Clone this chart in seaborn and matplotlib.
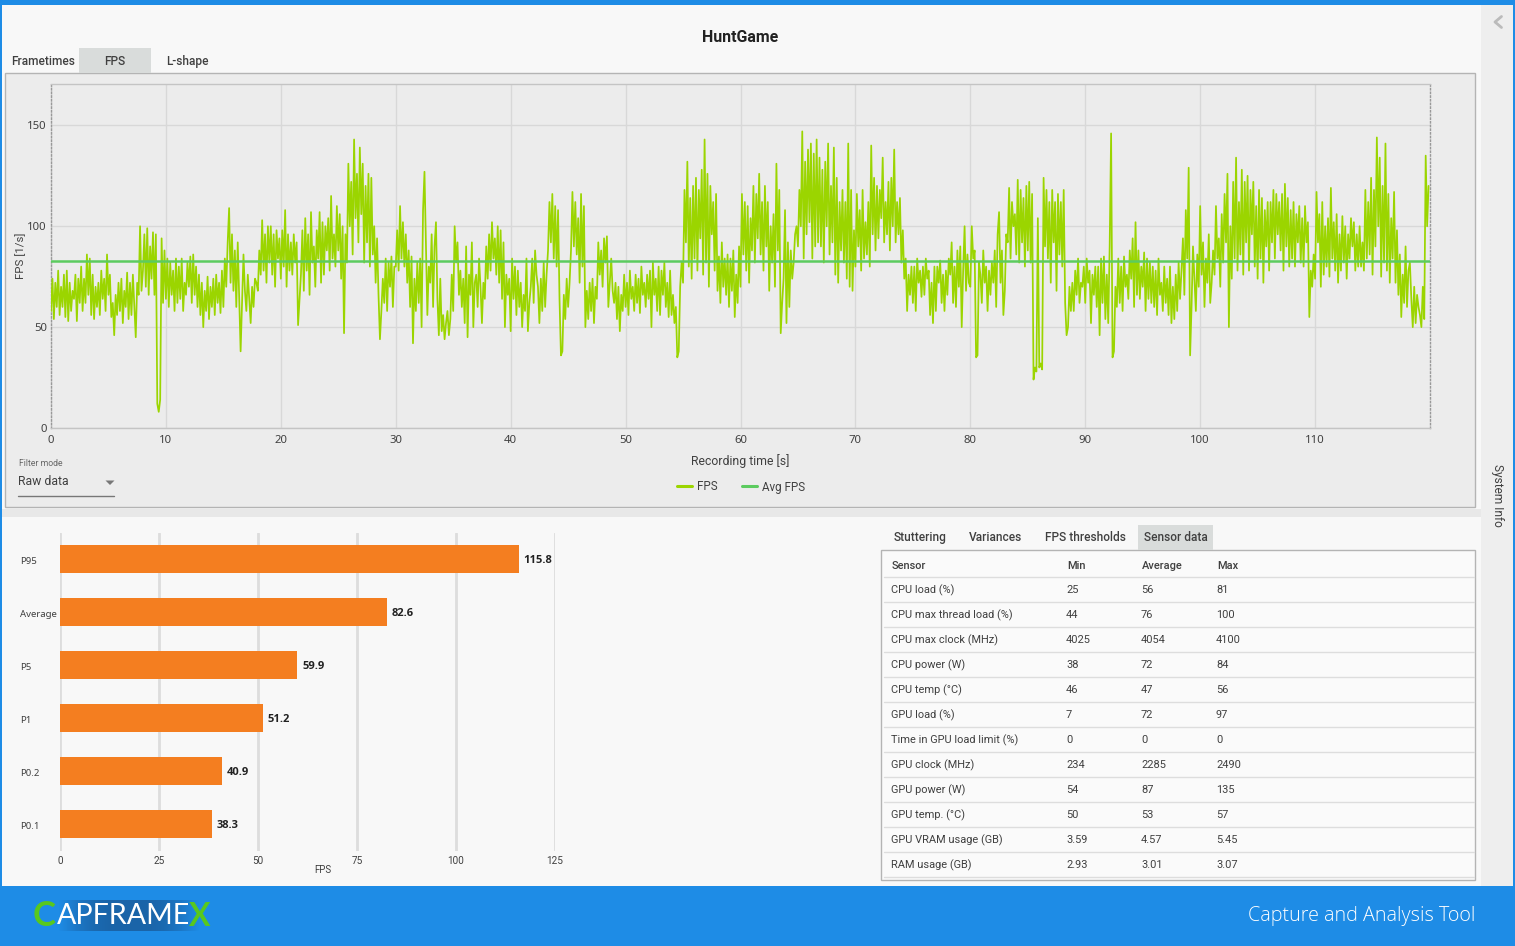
import numpy as np
import pandas as pd
import matplotlib
matplotlib.use("Agg")
import matplotlib.pyplot as plt
from matplotlib.patches import Rectangle, Polygon
from matplotlib.transforms import ScaledTranslation
import seaborn as sns

# ---- data ----------------------------------------------------------------
samples_per_second = 8
fps_values = [
58,74,54,72,60,78,56,70, 60,76,55,78,53,72,58,68, 64,76,53,74,62,80,58,74, 62,86,66,84,56,76,54,70,
60,72,56,78,64,74,58,86, 66,76,55,62,46,66,56,72, 58,74,52,68,60,77,54,72, 56,76,60,45,72,66,100,68,
78,96,70,99,66,90,74,97, 66,96,12,8,14,94,62,88, 64,84,60,82,66,78,58,84, 62,80,64,84,58,72,66,82,
70,85,62,86,66,80,60,76, 56,72,50,68,58,75,54,70, 60,74,56,76,62,72,57,78, 60,84,70,92,109,72,96,68,
88,60,92,66,38,62,86,68, 58,76,64,52,70,60,74,72, 68,88,76,103,78,96,72,100, 82,100,76,96,70,98,84,94,
74,98,80,108,70,96,78,92, 76,96,82,92,51,64,76,98, 68,104,78,96,66,107,82,90, 70,98,84,107,72,102,76,100,
88,104,78,115,84,96,80,110, 88,106,74,100,47,96,82,131, 100,122,86,143,104,126,92,139, 106,131,82,120,92,126,80,124,
86,100,72,94,66,44,58,74, 62,84,58,82,70,85,60,80, 80,98,78,110,84,102,80,96, 72,88,60,85,42,74,58,82,
62,84,50,108,127,92,56,80, 72,96,60,90,102,64,46,74, 48,56,44,52,58,46,54,76, 58,100,82,92,66,78,60,74,
52,90,45,76,66,92,50,72, 76,60,84,70,52,72,64,90, 74,96,78,102,84,94,76,100, 72,98,64,92,50,76,66,74,
48,84,64,80,56,78,60,72, 50,66,58,84,48,62,70,84, 62,88,76,70,52,74,58,82, 60,76,88,112,92,116,84,110,
80,108,64,36,38,66,54,74, 60,72,88,117,90,112,86,104, 72,116,80,110,50,68,54,72, 58,74,52,70,64,92,76,88,
70,94,82,95,60,72,84,68, 62,72,54,70,48,66,58,76, 60,72,56,78,64,70,58,76, 62,74,57,80,66,72,60,76,
64,78,50,82,66,74,58,80, 56,78,66,82,60,72,55,78, 56,66,52,60,35,38,70,82, 72,118,92,132,80,114,74,120,
84,124,78,118,94,128,76,143, 82,126,70,120,96,112,78,116, 68,85,62,92,70,84,66,86, 60,84,68,88,55,76,62,90,
70,116,86,112,78,110,72,104, 88,120,82,116,94,126,86,112, 78,120,90,112,68,100,82,106, 70,131,88,118,47,62,74,108,
52,92,60,88,74,82,96,100, 90,118,100,147,84,132,96,138, 102,141,84,136,90,143,92,134, 90,128,82,132,100,141,86,120,
92,139,76,124,72,112,88,118, 82,112,74,141,70,118,68,98, 80,116,90,108,78,118,84,102, 86,112,80,140,96,124,88,120,
94,118,104,134,92,112,96,122, 88,124,100,138,92,112,96,114, 82,98,74,84,58,76,66,80, 62,80,58,84,72,78,65,80,
66,84,74,78,56,72,52,80, 58,80,72,83,62,76,58,78, 66,84,76,92,62,80,60,88, 70,90,50,78,100,68,86,72,
70,100,84,88,35,36,82,76, 62,88,72,80,58,78,66,82, 72,88,60,96,107,72,88,56, 68,96,92,119,84,112,100,106,
86,123,82,118,92,114,80,120, 88,122,82,116,24,30,28,104, 30,32,29,124,90,118,84,112, 72,118,92,112,68,116,86,112,
80,118,62,46,50,70,58,72, 58,78,66,84,62,72,70,80, 62,84,72,78,52,76,66,80, 60,80,46,84,62,85,54,76,
52,90,146,35,38,70,60,84, 62,80,58,85,70,76,64,88, 74,94,60,102,66,88,64,80, 70,87,58,84,64,82,62,80,
60,78,56,84,66,72,58,80, 62,74,56,80,52,70,54,76, 58,82,64,78,94,66,108,84, 129,36,60,90,74,58,86,70,
110,76,92,60,84,72,96,62, 72,88,76,110,84,94,70,106, 82,116,92,126,50,100,74,122, 84,134,78,112,86,128,76,122,
92,125,78,118,96,122,80,110, 74,118,84,114,72,108,90,112, 78,112,92,118,84,116,96,112, 88,116,78,121,90,114,80,108,
84,112,80,106,92,110,82,104, 80,110,92,102,55,78,70,86, 74,117,92,106,70,112,76,100, 80,104,75,119,84,102,78,106,
72,96,78,105,82,100,74,96, 84,104,90,102,78,96,80,100, 80,92,78,118,84,112,86,124, 76,118,90,144,100,134,75,120,
82,141,78,116,72,104,84,117, 72,98,66,86,55,76,62,90, 60,78,82,64,50,70,52,66, 60,56,50,70,54,135,100,120,
]
avg_fps = 82.6

metric_names = ["P95", "Average", "P5", "P1", "P0.2", "P0.1"]
metric_values = [115.8, 82.6, 59.9, 51.2, 40.9, 38.3]

sensor_names = ["CPU load (%)", "CPU max thread load (%)", "CPU max clock (MHz)", "CPU power (W)",
                "CPU temp (°C)", "GPU load (%)", "Time in GPU load limit (%)", "GPU clock (MHz)",
                "GPU power (W)", "GPU temp. (°C)", "GPU VRAM usage (GB)", "RAM usage (GB)"]
sensor_min = ["25", "44", "4025", "38", "46", "7", "0", "234", "54", "50", "3.59", "2.93"]
sensor_avg = ["56", "76", "4054", "72", "47", "72", "0", "2285", "87", "53", "4.57", "3.01"]
sensor_max = ["81", "100", "4100", "84", "56", "97", "0", "2490", "135", "57", "5.45", "3.07"]

top_tabs = ["Frametimes", "FPS", "L-shape"]
lower_tabs = ["Stuttering", "Variances", "FPS thresholds", "Sensor data"]

# ---- style ---------------------------------------------------------------
W, H = 1515, 946
BLUE = "#1E8CE6"
LIME = "#9BD500"
AVG = "#5CCB5F"
ORANGE = "#F47E20"
TXT = "#404040"
sns.set_style("white")
plt.rcParams["font.family"] = ["Roboto", "DejaVu Sans"]

fig = plt.figure(figsize=(W / 100, H / 100), dpi=100, facecolor="#F8F8F8")


def axes_px(left, top, right, bottom, **kw):
    return fig.add_axes([left / W, 1 - bottom / H, (right - left) / W, (bottom - top) / H], **kw)


# ---- window chrome (pixel coordinates) -----------------------------------
bg = fig.add_axes([0, 0, 1, 1], zorder=0)
bg.set_xlim(0, W)
bg.set_ylim(H, 0)
bg.axis("off")


def rect(x0, y0, x1, y1, fc, ec="none", lw=0, z=1):
    bg.add_patch(Rectangle((x0, y0), x1 - x0, y1 - y0, facecolor=fc, edgecolor=ec, linewidth=lw, zorder=z))


rect(0, 0, W, 5, BLUE)
rect(0, 0, 2, H, BLUE)
rect(1513, 0, W, H, BLUE)
rect(0, 886, W, H, BLUE)
rect(1481, 5, 1513, 886, "#EEEEEE")
rect(2, 509, 1481, 517, "#E8E8E8")
rect(5, 73, 1475, 507, "#ECECEC", "#B4B4B4", 1.0)
rect(79, 48, 151, 73, "#D9DCDB")
rect(881, 550, 1475, 880, "#FAFAFA", "#B4B4B4", 1.0)
rect(1138, 525, 1213, 550, "#D9DCDB")

bg.text(740, 37.5, "HuntGame", ha="center", va="center", fontsize=11.4, fontweight="bold", color="#222222")
for label, x in zip(top_tabs, [43, 115, 187]):
    bg.text(x, 61.5, label, ha="center", va="center", fontsize=8.6, fontweight="medium", color=TXT)
for label, x in zip(lower_tabs, [920.5, 995.5, 1085.5, 1175.5]):
    bg.text(x, 537.5, label, ha="center", va="center", fontsize=8.6, fontweight="medium", color=TXT)

bg.text(19, 463, "Filter mode", ha="left", va="center", fontsize=6.2, color="#666666")
bg.text(18, 481, "Raw data", ha="left", va="center", fontsize=8.8, color=TXT)
bg.plot([18, 114], [495.5, 495.5], color="#777777", lw=1, zorder=2)
bg.add_patch(Polygon([[105.5, 480.5], [114.5, 480.5], [110, 485]], facecolor="#777777", edgecolor="none", zorder=2))

bg.plot([1501.5, 1495, 1501.5], [16.5, 22, 27.5], color="#BBBBBB", lw=2, zorder=2)
bg.text(1497.5, 495, "System Info", rotation=-90, ha="center", va="center", fontsize=8.6, color=TXT)

# sensor table
bg.text(892, 566, "Sensor", ha="left", va="center", fontsize=7.9, color=TXT, fontweight="medium")
for label, x in zip(["Min", "Average", "Max"], [1067, 1142, 1217]):
    bg.text(x, 566, label, ha="left", va="center", fontsize=7.9, color=TXT, fontweight="medium")
for i, row in enumerate(zip(sensor_names, sensor_min, sensor_avg, sensor_max)):
    y = 590 + 25 * i
    for cell, x in zip(row, [891, 1066, 1141, 1216]):
        bg.text(x, y, cell, ha="left", va="center", fontsize=7.9, color=TXT)
    bg.plot([884, 1474], [y - 13, y - 13], color="#DDDDDD", lw=1, zorder=2)
bg.plot([884, 1474], [877, 877], color="#DDDDDD", lw=1, zorder=2)

# footer
bg.imshow(np.array([[0, 0.5, 0.85, 1, 1, 1, 0.85, 0.5, 0]]), extent=(50, 208, 931, 900), aspect="auto",
          cmap=matplotlib.colors.LinearSegmentedColormap.from_list("logo", [BLUE, "#1A64A8"]),
          interpolation="bilinear", zorder=2)
bg.set_xlim(0, W)
bg.set_ylim(H, 0)
bg.text(33, 916, "C", ha="left", va="center", fontsize=25, color="#58C81E", fontweight="bold", family="Lato", zorder=3)
bg.text(57, 916, "APFRAME", ha="left", va="center", fontsize=20.6, color="white", family="Lato", zorder=3)
bg.text(189, 916, "X", ha="left", va="center", fontsize=23, color="#58C81E", fontweight="bold", family="Lato", zorder=3)
bg.text(1475, 916, "Capture and Analysis Tool", ha="right", va="center", fontsize=14.2, color="white",
        family="Open Sans", fontweight="light", zorder=3)

# ---- FPS chart -----------------------------------------------------------
ax = axes_px(51, 84, 1430, 428, zorder=2, facecolor="#ECECEC")
fps_arr = np.array(fps_values, dtype=float)
frame = pd.DataFrame({"t": np.arange(len(fps_arr)) / samples_per_second, "fps": fps_arr})
sns.lineplot(data=frame, x="t", y="fps", ax=ax, color=LIME, lw=1.25, estimator=None, sort=False, label="FPS", zorder=3)
ax.axhline(avg_fps, color=AVG, lw=1.8, label="Avg FPS", zorder=4)
ax.set_xlim(0, 120)
ax.set_ylim(0, 170.5)
ax.set_xticks(range(0, 111, 10))
ax.set_yticks([0, 50, 100, 150])
ax.grid(True, color="#D8D8D8", lw=1)
ax.set_axisbelow(True)
for s in ["top", "bottom", "left", "right"]:
    ax.spines[s].set_color("#C4C4C4")
    ax.spines[s].set_linewidth(1)
ax.spines["left"].set_linestyle(":")
ax.spines["left"].set_color("#999999")
ax.spines["right"].set_linestyle(":")
ax.spines["right"].set_color("#999999")
ax.tick_params(length=0, labelsize=8.2, labelcolor=TXT)
ax.tick_params(axis="x", pad=5)
ax.tick_params(axis="y", pad=3)
for lab in ax.get_xticklabels() + ax.get_yticklabels():
    lab.set_family(["Noto Sans", "DejaVu Sans"])
ax.set_xlabel("Recording time [s]", fontsize=8.8, color=TXT, labelpad=5.5)
ax.set_ylabel("FPS [1/s]", fontsize=8.2, color=TXT, labelpad=1)
leg = ax.legend(loc="center", bbox_to_anchor=(741 / W, 1 - 487 / H), bbox_transform=fig.transFigure, ncol=2,
                frameon=False, fontsize=8.4, handlelength=1.3, handletextpad=0.45, columnspacing=2.05, labelcolor=TXT)
for h in leg.get_lines():
    h.set_linewidth(2.2)

# ---- percentile bars -----------------------------------------------------
bx = axes_px(60, 532.5, 555, 850.5, zorder=2, facecolor="none")
sns.barplot(x=metric_values, y=metric_names, ax=bx, color=ORANGE, orient="h", width=0.53, saturation=1, linewidth=0)
bx.set_xlim(0, 125)
bx.set_xticks([0, 25, 50, 75, 100, 125])
bx.xaxis.grid(True, color="#DDDDDD", lw=2)
bx.set_axisbelow(True)
sns.despine(ax=bx, left=True, bottom=True)
bx.tick_params(length=0, labelsize=6.9, labelcolor=TXT)
bx.tick_params(axis="x", labelsize=7.2, pad=4)
nudge = ScaledTranslation(0, -1.5 / 100, fig.dpi_scale_trans)
for lab in bx.get_yticklabels():
    lab.set_ha("left")
    lab.set_x(-35 / 495)
    lab.set_family(["Noto Sans", "DejaVu Sans"])
    lab.set_transform(lab.get_transform() + nudge)
for cont in bx.containers:
    labs = bx.bar_label(cont, labels=[f"{v:.1f}" for v in metric_values], padding=3.5, fontsize=8,
                        fontweight="bold", color="#222222")
    for t in labs:
        t.set_family(["Open Sans", "DejaVu Sans"])
        t.set_fontweight("bold")
        t.xyann = (3.5, -1.0)
bx.set_xlabel("")
bx.set_ylabel("")
bg.text(323, 870, "FPS", ha="center", va="center", fontsize=7, color=TXT)

fig.savefig("out.png", dpi=100, facecolor=fig.get_facecolor())
